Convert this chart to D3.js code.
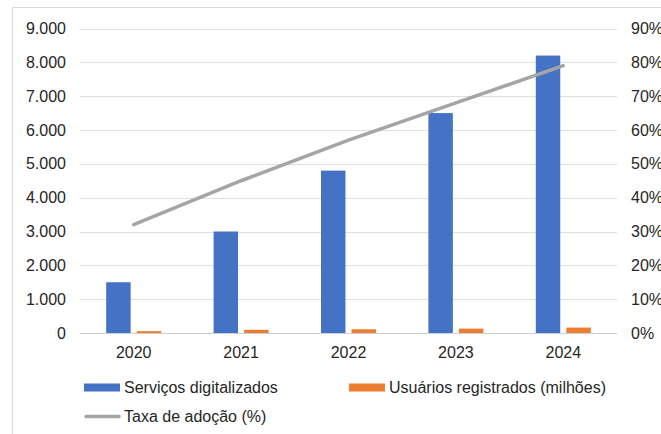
<!DOCTYPE html>
<meta charset="utf-8">
<head>
    <script type="text/javascript" src="https://cdn.jsdelivr.net/npm/d3@7"></script>
    <style>
        body { margin: 0; background: #fff; }
        text { font-family: "Liberation Sans", Arial, sans-serif; font-size: 16px; fill: #262626; }
    </style>
    <title>Serviços digitalizados</title>
</head>
<body>
<div id="chart"></div>
<script type="text/javascript">
    // chart data
    var years = ["2020", "2021", "2022", "2023", "2024"];
    var servicos = [1500, 3000, 4800, 6500, 8200];
    var usuarios = [55, 95, 110, 130, 160];
    var taxa = [32, 45, 57, 68, 79];
    var leftTicks = [0, 1000, 2000, 3000, 4000, 5000, 6000, 7000, 8000, 9000];
    var rightTicks = [0, 10, 20, 30, 40, 50, 60, 70, 80, 90];

    var w = 661;
    var h = 434;

    var svg = d3.select("#chart")
                .append("svg")
                .attr("width", w)
                .attr("height", h);

    // chart frame, runs off the picture on right and bottom
    svg.append("rect")
       .attr("x", 12.5).attr("y", 7.5)
       .attr("width", 700).attr("height", 500)
       .attr("fill", "none")
       .attr("stroke", "#d9d9d9");

    // plot area (note: "top" is a reserved global in browsers)
    var plotLeft = 80, plotRight = 617, plotTop = 28.5, plotBottom = 333;

    var x = d3.scaleBand().domain(years).range([plotLeft, plotRight]);
    var xs = d3.scaleBand().domain(["s", "u"]).range([-27.5, 27.5]).paddingInner(0.2);
    var y = d3.scaleLinear().domain([0, 9000]).range([plotBottom, plotTop]);
    var y2 = d3.scaleLinear().domain([0, 90]).range([plotBottom, plotTop]);

    // gridlines
    svg.selectAll("line.grid")
       .data(leftTicks)
       .enter()
       .append("line")
       .attr("class", "grid")
       .attr("x1", plotLeft).attr("x2", plotRight)
       .attr("y1", function(d){ return Math.round(y(d)) + 0.5; })
       .attr("y2", function(d){ return Math.round(y(d)) + 0.5; })
       .attr("stroke", function(d){ return d === 0 ? "#cfcfcf" : "#e0e0e0"; })
       .attr("stroke-width", 1.2);

    // left axis labels
    svg.selectAll("text.yl")
       .data(leftTicks)
       .enter()
       .append("text")
       .attr("class", "yl")
       .attr("x", 66)
       .attr("y", function(d){ return y(d) + 5.5; })
       .attr("text-anchor", "end")
       .text(function(d){ return d3.format(",")(d).replace(",", "."); });

    // right axis labels
    svg.selectAll("text.yr")
       .data(rightTicks)
       .enter()
       .append("text")
       .attr("class", "yr")
       .attr("x", 631)
       .attr("y", function(d){ return y2(d) + 5.5; })
       .text(function(d){ return d + "%"; });

    // x labels
    svg.selectAll("text.xl")
       .data(years)
       .enter()
       .append("text")
       .attr("class", "xl")
       .attr("x", function(d){ return x(d) + x.bandwidth() / 2; })
       .attr("y", 357.5)
       .attr("text-anchor", "middle")
       .text(function(d){ return d; });

    // bars
    svg.selectAll("rect.serv")
       .data(servicos)
       .enter()
       .append("rect")
       .attr("class", "serv")
       .attr("x", function(d, i){ return x(years[i]) + x.bandwidth() / 2 + xs("s"); })
       .attr("y", function(d){ return y(d); })
       .attr("width", xs.bandwidth())
       .attr("height", function(d){ return plotBottom - y(d); })
       .attr("fill", "#4472c4");

    svg.selectAll("rect.usu")
       .data(usuarios)
       .enter()
       .append("rect")
       .attr("class", "usu")
       .attr("x", function(d, i){ return x(years[i]) + x.bandwidth() / 2 + xs("u"); })
       .attr("y", function(d){ return y(d); })
       .attr("width", xs.bandwidth())
       .attr("height", function(d){ return plotBottom - y(d); })
       .attr("fill", "#ed7d31");

    // adoption line
    var line = d3.line()
                 .x(function(d, i){ return x(years[i]) + x.bandwidth() / 2; })
                 .y(function(d){ return y2(d); });

    svg.append("path")
       .datum(taxa)
       .attr("d", line)
       .attr("fill", "none")
       .attr("stroke", "#a5a5a5")
       .attr("stroke-width", 3.5)
       .attr("stroke-linecap", "round");

    // legend
    svg.append("rect").attr("x", 84).attr("y", 383.5).attr("width", 36).attr("height", 8).attr("fill", "#4472c4");
    svg.append("text").attr("x", 124).attr("y", 393).text("Serviços digitalizados");

    svg.append("rect").attr("x", 349).attr("y", 383.5).attr("width", 36).attr("height", 8).attr("fill", "#ed7d31");
    svg.append("text").attr("x", 389).attr("y", 393).text("Usuários registrados (milhões)");

    svg.append("line").attr("x1", 86).attr("x2", 119).attr("y1", 416.5).attr("y2", 416.5)
       .attr("stroke", "#a5a5a5").attr("stroke-width", 3.5).attr("stroke-linecap", "round");
    svg.append("text").attr("x", 124).attr("y", 422).text("Taxa de adoção (%)");
</script>
</body>
</html>
